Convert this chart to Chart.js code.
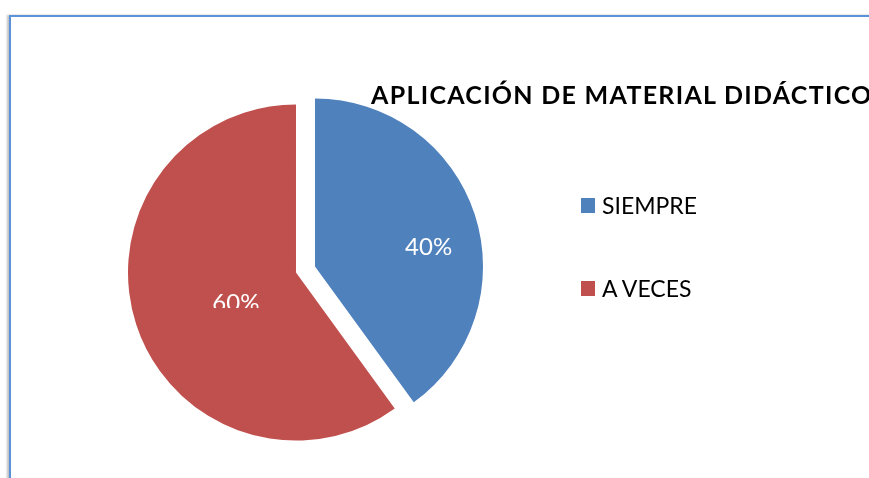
<!DOCTYPE html>
<html>
<head>
<meta charset="utf-8">
<script src="https://cdn.jsdelivr.net/npm/chart.js@4/dist/chart.umd.min.js"></script>
<style>
  html, body { margin: 0; padding: 0; background: #fff; overflow: hidden; }
  #wrap { position: relative; width: 869px; height: 478px; overflow: hidden; }
  #frame { position: absolute; left: 9px; top: 15px; width: 900px; height: 500px;
           border-top: 2px solid #5B93DB; border-left: 2px solid #5B93DB;
           box-shadow: -2px 0 2px rgba(0,0,0,0.25); }
  canvas { position: absolute; left: 0; top: 0; }
  #title { position: absolute; left: 371px; top: 82px; font: bold 25px Lato, sans-serif;
           line-height: 1; white-space: nowrap; color: #000; }
  .leg { position: absolute; left: 581px; font: 23px Lato, sans-serif; line-height: 1;
         white-space: nowrap; color: #000; }
  .leg .sw { position: absolute; left: 0; width: 14px; height: 15px; }
  .leg .tx { position: absolute; left: 21px; top: 0; }
</style>
</head>
<body>
<div id="wrap">
  <div id="frame"></div>
  <canvas id="c" width="869" height="478"></canvas>
  <div id="title"></div>
  <div id="legend"></div>
</div>
<script>
const title = "APLICACIÓN DE MATERIAL DIDÁCTICO";
const categories = ["SIEMPRE", "A VECES"];
const values = [40, 60];
const colors = ["#4F81BD", "#C0504D"];

// title: stretch letter spacing so it runs off the right edge like the reference
const titleEl = document.getElementById('title');
titleEl.textContent = title;
(function fitTitle() {
  const m = document.createElement('canvas').getContext('2d');
  m.font = 'bold 25px Lato, sans-serif';
  const w = m.measureText(title).width;
  const target = 501;
  const ls = Math.max(0, (target - w) / (title.length - 1));
  titleEl.style.letterSpacing = ls.toFixed(2) + 'px';
})();

// HTML legend
const legendTops = [194, 277];
const legend = document.getElementById('legend');
categories.forEach((cat, i) => {
  const d = document.createElement('div');
  d.className = 'leg';
  d.style.top = legendTops[i] + 'px';
  const sw = document.createElement('span');
  sw.className = 'sw';
  sw.style.background = colors[i];
  sw.style.top = '4px';
  const tx = document.createElement('span');
  tx.className = 'tx';
  tx.textContent = cat;
  d.appendChild(sw); d.appendChild(tx);
  legend.appendChild(d);
});

// exploded slices: each arc element is drawn by the library, shifted along its mid-angle
const explode = {
  id: 'explode',
  beforeDatasetDraw(chart, args, opts) {
    const ctx = chart.ctx;
    args.meta.data.forEach((arc) => {
      const mid = (arc.startAngle + arc.endAngle) / 2;
      ctx.save();
      ctx.translate(Math.cos(mid) * opts.distance, Math.sin(mid) * opts.distance);
      arc.draw(ctx);
      ctx.restore();
    });
    return false;
  }
};

// percentage labels placed from the arc geometry
const pctLabels = {
  id: 'pctLabels',
  afterDatasetsDraw(chart, args, opts) {
    const ctx = chart.ctx;
    const meta = chart.getDatasetMeta(0);
    const total = values.reduce((a, b) => a + b, 0);
    meta.data.forEach((arc, i) => {
      const mid = (arc.startAngle + arc.endAngle) / 2 + opts.angleShift[i] * Math.PI / 180;
      const r = arc.outerRadius * opts.radiusFrac[i];
      const x = arc.x + Math.cos(mid) * r;
      const y = arc.y + Math.sin(mid) * r;
      ctx.save();
      if (opts.clipBelow[i] !== null) {
        ctx.beginPath();
        ctx.rect(0, 0, chart.width, y + opts.clipBelow[i]);
        ctx.clip();
      }
      ctx.fillStyle = '#fff';
      ctx.font = '24px Lato, sans-serif';
      ctx.textAlign = 'center';
      ctx.textBaseline = 'middle';
      ctx.fillText(Math.round(values[i] / total * 100) + '%', x, y);
      ctx.restore();
    });
  }
};

new Chart(document.getElementById('c'), {
  type: 'pie',
  data: {
    labels: categories,
    datasets: [{
      data: values,
      backgroundColor: colors,
      borderWidth: 0,
      offset: 0,
      hoverOffset: 0
    }]
  },
  options: {
    responsive: false,
    animation: false,
    events: [],
    layout: { padding: { left: 137.5, top: 101.5, right: 395.5, bottom: 40.5 } },
    plugins: {
      legend: { display: false },
      tooltip: { enabled: false },
      title: { display: false },
      explode: { distance: 10 },
      pctLabels: {
        angleShift: [7.6, -7.7],
        radiusFrac: [0.745, 0.46],
        clipBelow: [null, 5]
      }
    }
  },
  plugins: [explode, pctLabels]
});
</script>
</body>
</html>
